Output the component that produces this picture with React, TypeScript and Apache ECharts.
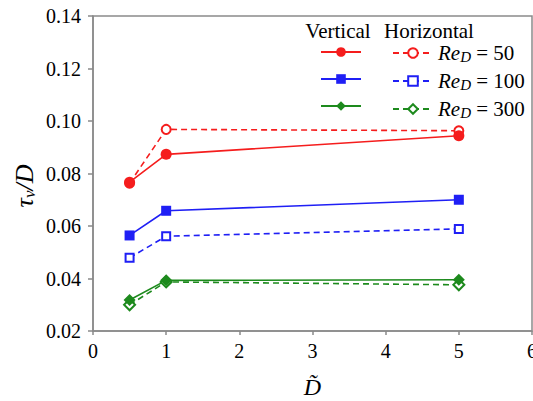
import React, { useEffect, useRef } from "react";
import * as echarts from "echarts";

const xValues = [0.5, 1, 5];
const vert50 = [0.0767, 0.0873, 0.0944];
const horiz50 = [0.0763, 0.0968, 0.0963];
const vert100 = [0.0564, 0.0658, 0.0700];
const horiz100 = [0.0479, 0.0561, 0.0589];
const vert300 = [0.0318, 0.0393, 0.0395];
const horiz300 = [0.0300, 0.0387, 0.0376];
const reLabels = ["50", "100", "300"];
const xTicks = [0, 1, 2, 3, 4, 5, 6];
const yTicks = [0.02, 0.04, 0.06, 0.08, 0.1, 0.12, 0.14];

const RED = "#f51d1d";
const BLUE = "#1f1ff5";
const GREEN = "#1d8a1d";
const AXIS = "#8a8a8a";
const FONT = "Liberation Serif";

const pair = (ys: number[]) => xValues.map((x, i) => [x, ys[i]]);

export default function App() {
  const ref = useRef<HTMLDivElement>(null);
  useEffect(() => {
    if (!ref.current) return;
    const chart = echarts.init(ref.current, undefined, { renderer: "svg" });
    const mk = (
      name: string,
      data: number[],
      color: string,
      symbol: string,
      size: number,
      dashed: boolean
    ) => ({
      name,
      type: "line",
      data: pair(data),
      symbol,
      symbolSize: size,
      color,
      lineStyle: { color, width: 1.6, type: dashed ? [6, 4] : "solid" },
      itemStyle: dashed
        ? { color, borderColor: color, borderWidth: 1.5 }
        : { color, borderColor: color, borderWidth: 0 },
    });
    const hNames = reLabels.map((r) => "H" + r);
    const vNames = reLabels.map((r) => "V" + r);
    const reRich = {
      i: { fontFamily: FONT, fontStyle: "italic", fontSize: 21, color: "#000", lineHeight: 22 },
      s: { fontFamily: FONT, fontStyle: "italic", fontSize: 15, color: "#000", verticalAlign: "bottom", padding: [8, 0, 0, 0], lineHeight: 22 },
      n: { fontFamily: FONT, fontSize: 21, color: "#000", lineHeight: 22 },
    };
    chart.setOption({
      animation: false,
      backgroundColor: "#fff",
      textStyle: { fontFamily: FONT },
      grid: {
        left: 93,
        right: 1,
        top: 16,
        bottom: 70,
        show: true,
        borderColor: AXIS,
        borderWidth: 1.5,
        containLabel: false,
        outerBoundsMode: "none",
      },
      xAxis: {
        type: "value",
        min: 0,
        max: 6,
        interval: 1,
        name: "D\u0303",
        nameLocation: "middle",
        nameGap: 44,
        nameTextStyle: { fontFamily: FONT, fontStyle: "italic", fontSize: 24, color: "#000" },
        axisLine: { lineStyle: { color: AXIS, width: 1.5 } },
        axisTick: { show: true, inside: false, length: 4, lineStyle: { color: AXIS, width: 1.5 } },
        axisLabel: {
          fontFamily: FONT,
          fontSize: 20,
          color: "#000",
          margin: 10,
          formatter: (v: number) => (xTicks.includes(v) ? String(v) : ""),
        },
        splitLine: { show: false },
      },
      yAxis: {
        type: "value",
        min: 0.02,
        max: 0.14,
        interval: 0.02,
        axisLine: { show: true, lineStyle: { color: AXIS, width: 1.5 } },
        axisTick: { show: true, inside: false, length: 5, lineStyle: { color: AXIS, width: 1.5 } },
        axisLabel: {
          fontFamily: FONT,
          fontSize: 20,
          color: "#000",
          margin: 12,
          formatter: (v: number) => {
            const t = yTicks.find((y) => Math.abs(y - v) < 1e-9);
            return t !== undefined ? t.toFixed(2) : "";
          },
        },
        splitLine: { show: false },
      },
      legend: [
        {
          data: vNames,
          left: 320,
          top: 41,
          orient: "vertical",
          itemWidth: 40,
          itemHeight: 12,
          itemGap: 5,
          padding: 0,
          formatter: () => " ",
          textStyle: { fontFamily: FONT, fontSize: 21, lineHeight: 22 },
          selectedMode: false,
        },
        {
          data: hNames,
          left: 392,
          top: 41,
          orient: "vertical",
          itemWidth: 40,
          itemHeight: 12,
          itemGap: 5,
          padding: 0,
          formatter: (name: string) => `{i|Re}{s|D}{n| = ${name.slice(1)}}`,
          textStyle: { fontFamily: FONT, fontSize: 21, lineHeight: 22, rich: reRich },
          selectedMode: false,
        },
      ],
      graphic: [
        {
          type: "text",
          x: 338,
          y: 31,
          style: { text: "Vertical", fontFamily: FONT, fontSize: 21, fill: "#000", align: "center", verticalAlign: "middle" },
        },
        {
          type: "text",
          x: 429,
          y: 31,
          style: { text: "Horizontal", fontFamily: FONT, fontSize: 21, fill: "#000", align: "center", verticalAlign: "middle" },
        },
        {
          type: "text",
          x: 24,
          y: 186,
          rotation: Math.PI / 2,
          style: {
            text: "{t|\u03c4}{s|v}{t|/D}",
            align: "center",
            verticalAlign: "middle",
            rich: {
              t: { fontFamily: FONT, fontStyle: "italic", fontSize: 26, fill: "#000", lineHeight: 28 },
              s: { fontFamily: FONT, fontStyle: "italic", fontSize: 17, fill: "#000", verticalAlign: "bottom", padding: [10, 0, 0, 0], lineHeight: 28 },
            },
          },
        },
      ],
      series: [
        mk("H50", horiz50, RED, "emptyCircle", 9, true),
        mk("H100", horiz100, BLUE, "emptyRect", 8, true),
        mk("H300", horiz300, GREEN, "emptyDiamond", 11, true),
        mk("V50", vert50, RED, "circle", 11, false),
        mk("V100", vert100, BLUE, "rect", 10, false),
        mk("V300", vert300, GREEN, "diamond", 12, false),
      ],
    });
    return () => chart.dispose();
  }, []);
  return <div ref={ref} style={{ width: 533, height: 401, position: "absolute", left: 0, top: 0 }} />;
}
